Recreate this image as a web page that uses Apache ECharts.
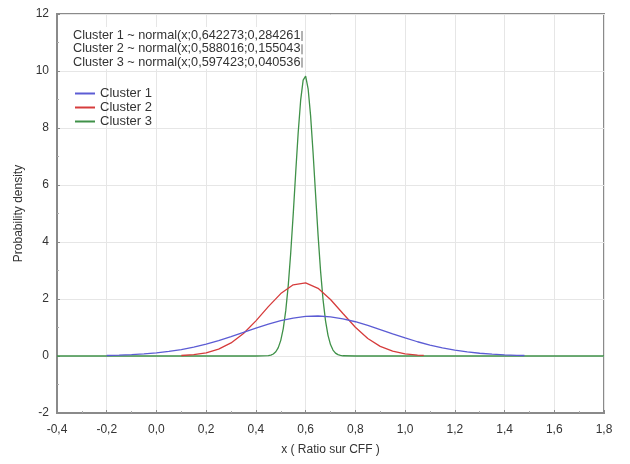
<!DOCTYPE html>
<html><head><meta charset="utf-8">
<script src="https://cdn.jsdelivr.net/npm/echarts@6/dist/echarts.min.js"></script>
<style>html,body{margin:0;padding:0;background:#fff}#c{width:630px;height:464px}</style>
</head><body><div id="c"></div>
<script>
var seriesNames = ['Cluster 1', 'Cluster 2', 'Cluster 3'];
var fitLabels = [
  'Cluster 1 ~ normal(x;0,642273;0,284261)',
  'Cluster 2 ~ normal(x;0,588016;0,155043)',
  'Cluster 3 ~ normal(x;0,597423;0,040536)'
];
var x1 = [-0.2,-0.15,-0.1,-0.05,0,0.05,0.1,0.15,0.2,0.25,0.3,0.35,0.4,0.45,0.5,0.55,0.6,0.65,0.7,0.75,0.8,0.85,0.9,0.95,1.0,1.05,1.1,1.15,1.2,1.25,1.3,1.35,1.4,1.45,1.48];
var y1 = [0.017,0.029,0.046,0.072,0.109,0.160,0.227,0.313,0.418,0.541,0.679,0.827,0.976,1.116,1.238,1.331,1.388,1.403,1.374,1.305,1.202,1.073,0.929,0.780,0.634,0.500,0.382,0.283,0.204,0.142,0.096,0.063,0.040,0.025,0.018];
var x2 = [0.1,0.15,0.2,0.25,0.3,0.35,0.4,0.45,0.5,0.55,0.6,0.65,0.7,0.75,0.8,0.85,0.9,0.95,1.0,1.05,1.075];
var y2 = [0.018,0.048,0.112,0.239,0.458,0.792,1.233,1.731,2.190,2.497,2.565,2.375,1.982,1.490,1.010,0.616,0.339,0.168,0.075,0.030,0.019];
var x3 = [-0.4,0.4,0.45,0.46,0.47,0.48,0.49,0.5,0.51,0.52,0.53,0.54,0.55,0.56,0.57,0.58,0.59,0.6,0.61,0.62,0.63,0.64,0.65,0.66,0.67,0.68,0.69,0.7,0.71,0.72,0.73,0.74,0.75,0.8,1.8];
var y3 = [0,0,0.013,0.031,0.071,0.149,0.294,0.549,0.963,1.591,2.468,3.612,4.968,6.427,7.831,8.976,9.679,9.821,9.377,8.426,7.123,5.665,4.241,2.987,1.980,1.235,0.725,0.400,0.208,0.102,0.047,0.020,0.008,0,0];
var xTicks = {min: -0.4, max: 1.8, interval: 0.2};
var yTicks = {min: -2, max: 12, interval: 2};
var colors = ['#5c5cd4', '#d63c3c', '#3f9148'];

function pairs(xs, ys){ return xs.map(function(x,i){ return [x, ys[i]]; }); }
var allData = [pairs(x1,y1), pairs(x2,y2), pairs(x3,y3)];
var font = '"Liberation Sans", Arial, sans-serif';

var boxChildren = [
  {type: 'rect', shape: {x: 0, y: 0, width: 236, height: 42}, style: {fill: '#fff'}, z: 10}
];
fitLabels.forEach(function(t, i){
  boxChildren.push({type: 'text', x: 5, y: 2 + i * 13.3, z: 11,
    style: {text: t, font: '12.7px ' + font, fill: '#333', width: 230, overflow: 'truncate', ellipsis: ''}});
  boxChildren.push({type: 'line', z: 11, shape: {x1: 234, y1: 4 + i * 13.3, x2: 234, y2: 14 + i * 13.3},
    style: {stroke: '#666', lineWidth: 1}});
});

var chart = echarts.init(document.getElementById('c'));
chart.setOption({
  animation: false,
  textStyle: {fontFamily: font},
  grid: {left: 57, right: 26, top: 14, bottom: 51, show: true, borderColor: '#8a8a8a', borderWidth: 2},
  legend: {
    data: seriesNames, orient: 'vertical', left: 70, top: 82, itemWidth: 20, itemHeight: 2, itemGap: 1,
    icon: 'rect', textStyle: {fontSize: 13, color: '#333', fontFamily: font}
  },
  xAxis: {
    type: 'value', min: xTicks.min, max: xTicks.max, interval: xTicks.interval,
    name: 'x ( Ratio sur CFF )', nameLocation: 'middle', nameGap: 31,
    nameTextStyle: {fontSize: 12, color: '#333'},
    axisLine: {show: true, onZero: false, lineStyle: {color: '#8a8a8a', width: 2}},
    axisTick: {show: true, inside: true, length: 3, lineStyle: {color: '#8a8a8a'}},
    minorTick: {show: true, splitNumber: 2, length: 2, lineStyle: {color: '#aaa'}},
    axisLabel: {fontSize: 12, color: '#333', margin: 11, formatter: function(v){ return v.toFixed(1).replace('.', ','); }},
    splitLine: {show: true, lineStyle: {color: '#e6e6e6', width: 1}}
  },
  yAxis: {
    type: 'value', min: yTicks.min, max: yTicks.max, interval: yTicks.interval,
    name: 'Probability density', nameLocation: 'middle', nameGap: 27,
    nameTextStyle: {fontSize: 12, color: '#333'},
    axisLine: {show: true, onZero: false, lineStyle: {color: '#8a8a8a', width: 2}},
    axisTick: {show: true, inside: true, length: 3, lineStyle: {color: '#8a8a8a'}},
    minorTick: {show: true, splitNumber: 2, length: 2, lineStyle: {color: '#aaa'}},
    axisLabel: {fontSize: 12, color: '#333', margin: 8},
    splitLine: {show: true, lineStyle: {color: '#e6e6e6', width: 1}}
  },
  graphic: [{
    type: 'group', x: 68, y: 27, silent: true, z: 10,
    children: boxChildren
  }],
  series: allData.map(function(d, i){
    return {name: seriesNames[i], type: 'line', data: d, showSymbol: false, symbol: 'none',
      lineStyle: {color: colors[i], width: 1.3}, itemStyle: {color: colors[i]}, z: 3 - i};
  })
});
</script></body></html>
